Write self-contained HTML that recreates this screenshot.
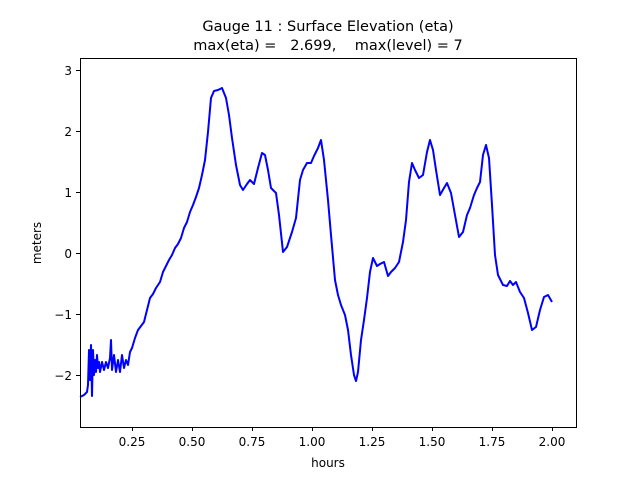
<!DOCTYPE html>
<html><head><style>body{margin:0;background:#fff}svg{display:block}text{font-family:"DejaVu Sans","Liberation Sans",sans-serif;fill:#000}</style></head><body>
<svg width="640" height="480" viewBox="0 0 640 480">
<rect width="640" height="480" fill="#fff"/>
<text x="328" y="31" font-size="14.5" text-anchor="middle">Gauge 11 : Surface Elevation (eta)</text>
<text x="328" y="50" font-size="14.5" text-anchor="middle" xml:space="preserve">max(eta) =   2.699,    max(level) = 7</text>
<polyline fill="none" stroke="#0000ff" stroke-width="2" stroke-linejoin="round" points="80,397 84,395 87,392 88,385 89,350 90,380 91,345 92,396 93,350 94,375 95,360 96,372 97,355 98,368 99,362 100,372 102,362 104,370 106,362 108,368 110,358 111,340 112,370 114,355 116,372 118,360 120,372 122,355 124,368 126,360 128,365 130,352 132,348 135,338 138,330 141,326 144,322 147,310 150,298 153,294 156,288 160,282 163,272 166,266 169,260 172,255 175,248 178,244 181,238 184,228 187,222 190,212 193,205 196,197 199,188 202,175 205,160 208,132 211,98 214,91 218,90 222,88 226,98 229,115 232,138 236,165 240,185 243,190 247,184 250,180 254,184 258,168 262,153 265,155 268,170 271,188 276,193 279,215 283,252 287,247 292,232 296,218 300,180 303,170 307,163 311,163 314,156 318,148 321,140 324,160 328,200 331,235 335,280 338,295 341,305 345,315 348,330 351,355 354,375 356,381 358,372 361,340 364,320 367,298 370,272 373,258 377,266 380,264 384,262 388,276 391,272 395,268 399,262 403,242 406,220 409,182 412,163 415,170 419,178 423,175 427,152 430,140 433,150 436,170 440,195 444,188 447,183 451,193 455,215 459,237 463,232 467,215 470,208 474,195 477,188 480,182 483,155 486,145 489,158 492,205 495,255 498,275 503,285 507,286 510,281 513,285 516,282 520,292 524,298 528,313 532,330 536,327 540,310 544,297 548,295 552,302"/>
<rect x="80.5" y="58.5" width="496" height="369" fill="none" stroke="#000" stroke-width="1"/>
<g stroke="#000" stroke-width="1">
<line x1="132.5" y1="427" x2="132.5" y2="431"/><line x1="192.5" y1="427" x2="192.5" y2="431"/><line x1="252.5" y1="427" x2="252.5" y2="431"/><line x1="312.5" y1="427" x2="312.5" y2="431"/><line x1="372.5" y1="427" x2="372.5" y2="431"/><line x1="432.5" y1="427" x2="432.5" y2="431"/><line x1="492.5" y1="427" x2="492.5" y2="431"/><line x1="552.5" y1="427" x2="552.5" y2="431"/>
<line x1="76" y1="70.5" x2="80" y2="70.5"/><line x1="76" y1="131.5" x2="80" y2="131.5"/><line x1="76" y1="192.5" x2="80" y2="192.5"/><line x1="76" y1="253.5" x2="80" y2="253.5"/><line x1="76" y1="314.5" x2="80" y2="314.5"/><line x1="76" y1="375.5" x2="80" y2="375.5"/>
</g>
<g font-size="12" text-anchor="middle">
<text x="132" y="446">0.25</text><text x="192" y="446">0.50</text><text x="252" y="446">0.75</text><text x="312" y="446">1.00</text><text x="372" y="446">1.25</text><text x="432" y="446">1.50</text><text x="492" y="446">1.75</text><text x="552" y="446">2.00</text>
<text x="328" y="467">hours</text>
</g>
<g font-size="12" text-anchor="end">
<text x="72" y="75">3</text><text x="72" y="136">2</text><text x="72" y="197">1</text><text x="72" y="258">0</text><text x="72" y="319">−1</text><text x="72" y="380">−2</text>
</g>
<text font-size="12" text-anchor="middle" transform="translate(41,243) rotate(-90)">meters</text>
</svg>
</body></html>
